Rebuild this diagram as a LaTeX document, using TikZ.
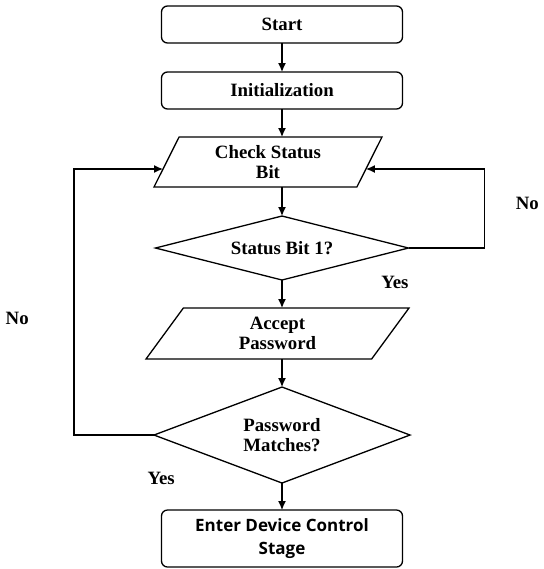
\documentclass[tikz,border=0pt]{standalone}
\usepackage{fontspec}
\setmainfont{Liberation Serif}
\newfontfamily\stagefont{Open Sans}
\usetikzlibrary{positioning}
\usetikzlibrary{shapes.geometric}
\usetikzlibrary{calc}
\usetikzlibrary{arrows.meta}
\tikzset{box/.style = {draw, rounded corners=3pt, align=center, text centered, minimum width=120.5pt, minimum height=18.5pt, inner sep=1pt, outer sep=0pt}}
\tikzset{io/.style = {draw, trapezium, trapezium stretches body, align=center, text centered, inner sep=1pt, outer sep=0pt}}
\tikzset{decision/.style = {draw, diamond, align=center, text centered, inner sep=0pt, outer sep=0pt}}
\tikzset{arr/.style = {-{Latex[length=4.5pt, width=4pt]}}}

\begin{document}
\begin{tikzpicture}[
  node distance = 14pt,
  line width = .65pt,
  font=\fontsize{9.4}{10}\selectfont\bfseries
]
\useasboundingbox (0,0) rectangle (272pt,-284.5pt);

\node[box] (start) at (141pt,-12.25pt) {Start};
\node[box, below=14.5pt of start] (init) {Initialization};
\node[io, below=of init, xshift=-7pt, trapezium left angle=56, trapezium right angle=124,
  minimum width=114pt, minimum height=25pt] (check) {Check Status\\Bit};
\node[decision, below=14.5pt of check, xshift=7pt, aspect=3.95,
  minimum width=126.5pt, minimum height=32pt] (dec1) {Status Bit 1?};
\node[io, below=of dec1, xshift=-2.25pt, trapezium left angle=44.4, trapezium right angle=135.6,
  minimum width=131.5pt, minimum height=25.5pt] (accept) {Accept\\Password};
\node[decision, below=of accept, xshift=2.25pt, aspect=2.67,
  minimum width=128pt, minimum height=48pt] (dec2) {Password\\Matches?};
\node[box, below=13.5pt of dec2, minimum height=28.5pt,
  font=\stagefont\fontsize{8.5}{11.5}\selectfont\bfseries] (stage) {Enter Device Control\\Stage};

% loop ends on the slanted sides
\coordinate (chkR) at ($(check.top right corner)!.64!(check.bottom right corner)$);
\coordinate (chkL) at ($(check.top left corner)!.64!(check.bottom left corner)$);

\draw[arr]  (start) -- (init);
\draw[arr]  (init) -- (init |- check.north);
\draw[arr]  (check.south -| dec1) -- (dec1);
\draw[arr]  (dec1) -- (dec1 |- accept.north) node[pos=.1, right=46pt]{Yes};
\draw[arr]  (accept.south -| dec2) -- (dec2);
\draw[arr]  (dec2) -- (stage) node[pos=0, left=50pt, yshift=2.5pt]{Yes};
\draw[arr]  (dec1.east) -- ++(38pt,0) |- (chkR) node[pos=.28, right=12pt]{No};
\draw[arr]  (dec2.west) -- ++(-40pt,0) |- (chkL) node[pos=.22, left=19pt]{No};

\end{tikzpicture}
\end{document}
